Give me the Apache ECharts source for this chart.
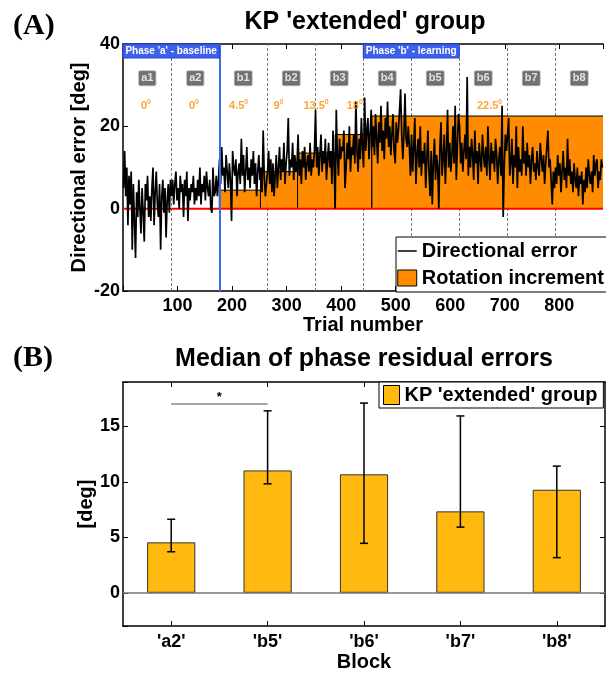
<!DOCTYPE html>
<html>
<head>
<meta charset="utf-8">
<title>KP extended group</title>
<script src="https://cdn.jsdelivr.net/npm/echarts@6.0.0/dist/echarts.min.js"></script>
<style>
body{margin:0;background:#fff}
#chart{width:606px;height:673px}
</style>
</head>
<body>
<div id="chart"></div>
<script>
// ---- panel A data: one reading every 2 trials, 44 readings per 88-trial block
var blockNames = ['a1','a2','b1','b2','b3','b4','b5','b6','b7','b8'];
var blockSize = 88;
var trialStep = 2;
var errA1 = [5,14,3,10,-4,8,1,9,-10,6, -3,-12,4,-2,7,0,-6,5,-1,-8, 6,2,8,-2,3,-3,5,10,-4,4, 9,1,-2,6,-10,3,7,-1,5,-7, 2,6,-1,7];
var errA2 = [3,7,1,6,9,2,5,0,8,4, 6,-2,7,3,9,-3,5,2,6,4, 8,1,5,2,7,3,10,1,6,4, 8,2,9,5,3,7,0,-1,10,3, 4,8,3,7];
var errB1 = [12,6,15,8,10,4,13,9,5,11, 7,-3,14,10,8,12,3,9,11,6, 17,8,13,4,9,15,7,10,5,12, 8,14,6,11,3,9,13,7,10,4, 19,8,3,6];
var errB2 = [9,14,6,12,4,11,3,8,13,5, 10,15,7,12,9,16,6,11,14,22, 8,12,10,16,7,13,9,11,18,8, 12,6,14,10,15,7,11,13,9,16, 8,12,10,14];
var errB3 = [24,10,15,8,13,18,9,14,11,17, 7,12,16,10,14,6,19,11,0,24, 13,8,17,12,15,14,19,5,10,16, 12,20,9,15,13,18,11,26,14,9, 17,12,22,15];
var errB4 = [10,27,14,19,22,12,18,24,15,20, 13,23,17,11,21,16,25,14,19,12, 22,17,26,15,20,13,18,23,14,11, 21,16,19,24,29,18,12,18,28,17, 15,20,15,8];
var errB5 = [18,9,15,22,6,13,17,10,20,8, 14,11,16,5,12,19,9,3,14,1, 11,17,7,13,10,0,15,21,8,12, 18,6,14,24,10,16,9,13,20,11, 25,7,15,23];
var errB6 = [20,11,16,9,14,18,12,32,8,15, 10,17,13,7,19,11,14,6,16,12, 9,18,13,10,15,8,20,12,7,16, 11,14,9,17,13,6,12,15,8,25, -2,10,18,14];
var errB7 = [14,22,8,11,17,6,13,10,20,5, 15,9,12,8,20,11,14,8,16,10, 13,6,12,15,9,11,7,14,10,8, 16,12,9,13,6,11,15,19,10,12, 12,1,9,5];
var errB8 = [10,6,13,8,11,4,9,14,7,10, 5,17,8,12,6,9,4,11,7,5, 10,3,8,6,9,1,7,4,10,5, 12,8,6,9,4,13,8,11,12,5, 9,7,12,10];
var blockErrors = [errA1, errA2, errB1, errB2, errB3, errB4, errB5, errB6, errB7, errB8];

var totalTrials = 880;
var blockEdges = [88.5, 264.5, 352.5, 440.5, 528.5, 616.5, 704.5, 792.5];
var phaseEdge = 176.5;
var phaseNames = ["Phase 'a' - baseline", "Phase 'b' - learning"];
var phaseFrom = [0, 440.5];
var phaseTo = [176.5, 616.5];

var rotStart = [176.5, 252, 320, 389, 456];
var rotLevel = [4.5, 9, 13.5, 18, 22.5];
var angleText = ['0', '0', '4.5', '9', '13.5', '18', '22.5'];
var angleTrial = [42, 130, 212, 285, 354, 425, 672];

// ---- panel B data
var categories = ["'a2'", "'b5'", "'b6'", "'b7'", "'b8'"];
var medians = [4.55, 11.03, 10.68, 7.34, 9.29];
var errLow = [3.70, 9.82, 4.46, 5.92, 3.17];
var errHigh = [6.63, 16.4, 17.1, 15.94, 11.42];
var sigLevel = 17;

// build series data
var traceData = [];
blockErrors.forEach(function (vals, b) {
  vals.forEach(function (v, i) {
    traceData.push([b * blockSize + 1 + i * trialStep, v]);
  });
});

var rotData = [[rotStart[0], 0]];
for (var i = 0; i < rotStart.length; i++) {
  var next = i < rotStart.length - 1 ? rotStart[i + 1] : totalTrials;
  rotData.push([rotStart[i], rotLevel[i]]);
  rotData.push([next, rotLevel[i]]);
  if (i < rotStart.length - 1) rotData.push([next, 0]);
}

var blockLabelData = blockNames.map(function (n, i) {
  return { name: n, value: [i * blockSize + blockSize / 2 + 0.5, 31.7] };
});
var angleData = angleText.map(function (t, i) {
  return { name: t, value: [angleTrial[i], 24.9] };
});
var phaseAreas = phaseNames.map(function (n, i) {
  return [{ name: n, coord: [phaseFrom[i], 40] }, { coord: [phaseTo[i], 36.6] }];
});
var errBarData = categories.map(function (c, i) {
  return [i, errLow[i], errHigh[i]];
});

var FONT = '"Liberation Sans", Arial, sans-serif';
function txt(size) {
  return { fontFamily: FONT, fontWeight: 'bold', fontSize: size, color: '#000' };
}
function axLine() {
  return { show: true, onZero: false, lineStyle: { color: '#000', width: 1.5 } };
}
function ticks(align) {
  return { show: true, inside: true, length: 5, alignWithLabel: !!align, lineStyle: { color: '#000', width: 1 } };
}
function lbl(extra) {
  return Object.assign(txt(18), { show: true }, extra);
}

function renderErrorBar(params, api) {
  var x = api.value(0);
  var lo = api.coord([x, api.value(1)]);
  var hi = api.coord([x, api.value(2)]);
  var cap = 4;
  var st = { stroke: '#000', lineWidth: 1.5 };
  return {
    type: 'group',
    children: [
      { type: 'line', shape: { x1: lo[0], y1: lo[1], x2: hi[0], y2: hi[1] }, style: st },
      { type: 'line', shape: { x1: hi[0] - cap, y1: hi[1], x2: hi[0] + cap, y2: hi[1] }, style: st },
      { type: 'line', shape: { x1: lo[0] - cap, y1: lo[1], x2: lo[0] + cap, y2: lo[1] }, style: st }
    ]
  };
}

var chart = echarts.init(document.getElementById('chart'));
var option = {
  animation: false,
  backgroundColor: '#fff',
  graphic: [
    { type: 'text', x: 13, y: 26, style: { text: '(A)', textVerticalAlign: 'middle', font: 'bold 30px "Liberation Serif", serif', fill: '#000' } },
    { type: 'text', x: 365, y: 22, style: { text: "KP 'extended' group", textAlign: 'center', textVerticalAlign: 'middle', font: 'bold 25px "Liberation Sans", Arial, sans-serif', fill: '#000' } },
    { type: 'text', x: 13, y: 358, style: { text: '(B)', textVerticalAlign: 'middle', font: 'bold 30px "Liberation Serif", serif', fill: '#000' } },
    { type: 'text', x: 364, y: 359, style: { text: 'Median of phase residual errors', textAlign: 'center', textVerticalAlign: 'middle', font: 'bold 25px "Liberation Sans", Arial, sans-serif', fill: '#000' } }
  ],
  legend: [
    {
      data: [
        { name: 'Directional error', itemStyle: { opacity: 0 }, lineStyle: { color: '#000', width: 1.5 } },
        { name: 'Rotation increment', icon: 'rect', itemStyle: { color: '#FF8C00', borderColor: '#000', borderWidth: 1 } }
      ],
      orient: 'vertical', left: 396, top: 237,
      padding: [4, 4, 4, 1], itemGap: 7, itemWidth: 19, itemHeight: 16,
      backgroundColor: '#fff', borderColor: '#000', borderWidth: 1,
      textStyle: txt(20), selectedMode: false
    },
    {
      data: [{ name: "KP 'extended' group", icon: 'rect', itemStyle: { color: '#FFB90F', borderColor: '#000', borderWidth: 1 } }],
      left: 379, top: 382,
      padding: [3, 6, 3, 4], itemWidth: 16, itemHeight: 19,
      backgroundColor: '#fff', borderColor: '#000', borderWidth: 1,
      textStyle: txt(20), selectedMode: false
    }
  ],
  grid: [
    { left: 123, top: 44, width: 484, height: 247 },
    { left: 123, top: 382, width: 482, height: 246 }
  ],
  xAxis: [
    {
      type: 'value', gridIndex: 0, min: 0, max: totalTrials, interval: 100,
      axisLine: axLine(), axisTick: ticks(), splitLine: { show: false },
      axisLabel: lbl({ margin: 6, formatter: function (v) { return (v > 0 && v % 100 === 0) ? v : ''; } }),
      name: 'Trial number', nameLocation: 'middle', nameGap: 20, nameTextStyle: txt(20)
    },
    {
      type: 'value', gridIndex: 0, position: 'top', min: 0, max: totalTrials, interval: 100,
      axisLine: axLine(), axisTick: ticks(), axisLabel: { show: false }, splitLine: { show: false }
    },
    {
      type: 'category', gridIndex: 1, data: categories,
      axisLine: axLine(), axisTick: ticks(true), splitLine: { show: false },
      axisLabel: lbl({ margin: 7 }),
      name: 'Block', nameLocation: 'middle', nameGap: 23, nameTextStyle: txt(20)
    },
    {
      type: 'category', gridIndex: 1, position: 'top', data: categories,
      axisLine: axLine(), axisTick: ticks(true), axisLabel: { show: false }, splitLine: { show: false }
    }
  ],
  yAxis: [
    {
      type: 'value', gridIndex: 0, min: -20, max: 40, interval: 20,
      axisLine: axLine(), axisTick: ticks(), splitLine: { show: false },
      axisLabel: lbl({ margin: 3 }),
      name: 'Directional error [deg]', nameLocation: 'middle', nameGap: 34, nameMoveOverlap: false,
      nameTextStyle: txt(20)
    },
    {
      type: 'value', gridIndex: 1, min: -3, max: 19,
      axisLine: axLine(), axisTick: ticks(), splitLine: { show: false },
      axisLabel: lbl({ margin: 3, formatter: function (v) { return v % 5 === 0 ? v : ''; } }),
      name: '[deg]', nameLocation: 'middle', nameGap: 27, nameMoveOverlap: false,
      nameTextStyle: txt(20)
    },
    {
      type: 'value', gridIndex: 1, position: 'right', min: -3, max: 19,
      axisLine: axLine(), axisTick: ticks(), splitLine: { show: false }, axisLabel: { show: false }
    }
  ],
  series: [
    {
      name: 'Rotation increment', type: 'line', xAxisIndex: 0, yAxisIndex: 0,
      data: rotData, symbol: 'none', z: 2,
      itemStyle: { color: '#FF8C00' },
      lineStyle: { color: '#000', width: 1 },
      areaStyle: { color: '#FF8C00', opacity: 1 }
    },
    {
      name: 'zero', type: 'line', xAxisIndex: 0, yAxisIndex: 0,
      data: [[0, 0], [totalTrials, 0]], symbol: 'none', z: 3,
      lineStyle: { color: '#FF0000', width: 2 },
      markLine: {
        z: 1, silent: true, symbol: 'none', label: { show: false },
        lineStyle: { color: '#777', width: 1, type: [3, 2] },
        data: blockEdges.map(function (e) { return { xAxis: e }; })
      }
    },
    {
      name: 'Directional error', type: 'line', xAxisIndex: 0, yAxisIndex: 0,
      data: traceData, symbol: 'none', z: 4,
      itemStyle: { color: '#000' },
      lineStyle: { color: '#000', width: 1.7 },
      markLine: {
        silent: true, symbol: 'none', label: { show: false },
        lineStyle: { color: '#3E6AE8', width: 2, type: 'solid' },
        data: [{ xAxis: phaseEdge }]
      }
    },
    {
      name: 'blocks', type: 'scatter', xAxisIndex: 0, yAxisIndex: 0,
      data: blockLabelData, symbolSize: 1, z: 6,
      itemStyle: { color: 'rgba(0,0,0,0)' },
      label: {
        show: true, position: 'inside', formatter: '{b}',
        color: '#fff', fontFamily: FONT, fontWeight: 'bold', fontSize: 11,
        backgroundColor: '#505050', borderColor: '#aaa', borderWidth: 1, borderRadius: 1,
        padding: [2, 2, 1, 2]
      },
      markArea: {
        z: 6, silent: true,
        itemStyle: { color: '#3F61EA', borderColor: '#1E3FDB', borderWidth: 1, opacity: 1 },
        label: { show: true, position: 'inside', color: '#fff', fontFamily: FONT, fontWeight: 'bold', fontSize: 10 },
        data: phaseAreas
      }
    },
    {
      name: 'angles', type: 'scatter', xAxisIndex: 0, yAxisIndex: 0,
      data: angleData, symbolSize: 1, z: 6,
      itemStyle: { color: 'rgba(0,0,0,0)' },
      label: {
        show: true, position: 'inside',
        formatter: function (p) { return '{b|' + p.name + '}{s|0}'; },
        rich: {
          b: { color: '#FF8C00', fontFamily: FONT, fontWeight: 'bold', fontSize: 11, lineHeight: 15 },
          s: { color: '#FF8C00', fontFamily: FONT, fontWeight: 'bold', fontSize: 7, verticalAlign: 'top', lineHeight: 15 }
        }
      }
    },
    {
      name: "KP 'extended' group", type: 'bar', xAxisIndex: 2, yAxisIndex: 1,
      data: medians, barWidth: '50%', z: 2,
      itemStyle: { color: '#FFB90F', borderColor: '#333', borderWidth: 1 },
      markLine: {
        silent: true, symbol: 'none', label: { show: false },
        lineStyle: { color: '#777', width: 1.5, type: 'solid' },
        data: [{ yAxis: 0 }]
      }
    },
    {
      name: 'errors', type: 'custom', xAxisIndex: 2, yAxisIndex: 1,
      data: errBarData, renderItem: renderErrorBar, z: 5,
      encode: { x: 0, y: [1, 2] },
      markLine: {
        silent: true, symbol: 'none',
        lineStyle: { color: '#888', width: 1.5, type: 'solid' },
        label: { show: true, position: 'middle', formatter: '*', color: '#000', fontFamily: FONT, fontWeight: 'bold', fontSize: 13, distance: 0 },
        data: [[{ coord: [0, sigLevel] }, { coord: [1, sigLevel] }]]
      }
    }
  ]
};
chart.setOption(option);
</script>
</body>
</html>
